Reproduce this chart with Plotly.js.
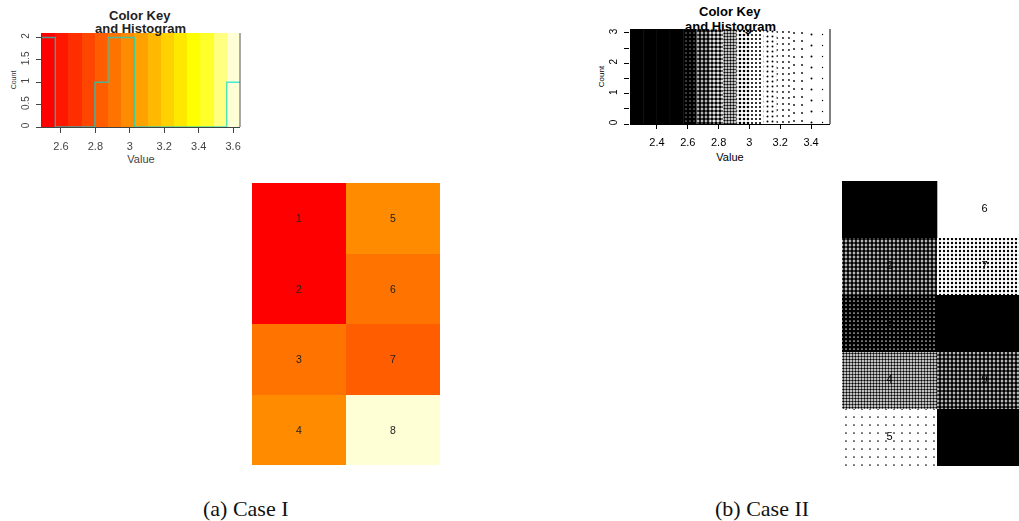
<!DOCTYPE html>
<html><head><meta charset="utf-8">
<script src="https://cdn.plot.ly/plotly-3.0.1.min.js"></script>
<style>
html,body{margin:0;padding:0;background:#fff;overflow:hidden}
#c{width:1019px;height:521px}
#c .subplot.xy,#c .subplot.x2y2{filter:blur(0.6px)}
#c .subplot.x3y3,#c .subplot.x4y4{filter:blur(0.25px)}
</style></head><body><div id="c"></div>
<script>
// Case I colour key: heat palette, bin centres, histogram
const heatColors=["#ff0000","#ff1700","#ff2e00","#ff4600","#ff5d00","#ff7400","#ff8b00","#ffa200","#ffb900","#ffd100","#ffe800","#ffff00","#ffff2a","#ffff80","#ffffd5"];
const keyEdges1=[2.49,2.567,2.643,2.72,2.797,2.873,2.95,3.027,3.103,3.18,3.257,3.333,3.41,3.487,3.563,3.64];
const keyCenters1=[2.528,2.605,2.682,2.758,2.835,2.912,2.988,3.065,3.142,3.218,3.295,3.372,3.448,3.525,3.602];
const histCounts1=[2,0,0,0,1,2,2,0,0,0,0,0,0,0,1,1];
// Case I grid
const gridValues1=[[2.52,3.0],[2.54,2.92],[2.91,2.83],[2.98,3.6]];
const gridLabels1=[["1","5"],["2","6"],["3","7"],["4","8"]];
const gridRows1=["r1","r2","r3","r4"];
const gridCols1=["c1","c2"];
// Case II colour key: fraction of black per bin
const keyCenters2=[2.268,2.355,2.441,2.528,2.614,2.701,2.787,2.874,2.96,3.047,3.133,3.22,3.306,3.393,3.479];
const keyDensity2=[1,1,1,1,0.85,0.72,0.62,0.5,0.35,0.22,0.12,0.07,0.04,0.025,0.012];
// Case II grid: column, row from the bottom, fraction of black
const cellCol=[0.5,0.5,0.5,0.5,0.5,1.5,1.5,1.5,1.5,1.5];
const cellRow=[4,3,2,1,0,4,3,2,1,0];
const cellDensity=[1,0.72,0.82,0.5,0.035,0,0.28,1,0.72,1];
const cellLabels=["1","2","3","4","5","6","7","8","9","10"];

const W=1019,H=521;
const dx=(a,b)=>[a/W,b/W];
const dy=(top,bot)=>[1-bot/H,1-top/H];
const stepScale=heatColors.flatMap((c,i)=>[[i/15,c],[(i+1)/15,c]]);
const sizeFor=d=>d>=0.6?4:d>=0.4?3:d>=0.2?4:d>=0.1?5:d>=0.05?6:d>=0.03?8:11;
const axisFont={family:"Liberation Sans",size:11,color:"#444"};
const axisFontY={family:"Liberation Sans",size:10,color:"#444"};
const font2={family:"Liberation Sans",size:11,color:"#000"};
const font2Y={family:"Liberation Sans",size:10,color:"#000"};
const titleFont={family:"Liberation Sans",size:13,color:"#222"};
const titleFont2={family:"Liberation Sans",size:13,color:"#000"};
const capFont={family:"Liberation Serif",size:22,color:"#111"};
const note=(text,px,py,font)=>({text,x:px/W,y:1-py/H,xref:"paper",yref:"paper",xanchor:"center",yanchor:"middle",showarrow:false,font});
const pick=(arr,keep)=>arr.filter((_,i)=>keep(i));
const isSolid=dens=>i=>dens[i]>=1;
const isDotted=dens=>i=>dens[i]>0&&dens[i]<1;
const dotted=(dens)=>{const d=pick(dens,isDotted(dens));return {color:"#fff",line:{width:0},pattern:{shape:".",fgcolor:"#000",bgcolor:"#fff",fillmode:"replicate",size:d.map(sizeFor),solidity:d}};};
const solid={color:"#000",line:{color:"#000",width:0.6}};
const keyHeight=3.13;

const traces=[
 {type:"heatmap",x:keyCenters1,y:[0,2.1],z:[keyCenters1,keyCenters1],xaxis:"x",yaxis:"y",zmin:2.49,zmax:3.64,colorscale:stepScale,showscale:false,hoverinfo:"skip"},
 {type:"scatter",mode:"lines",x:keyEdges1,y:histCounts1,xaxis:"x",yaxis:"y",opacity:0.7,line:{shape:"hv",color:"#00d8d0",width:1.4},hoverinfo:"skip"},
 {type:"heatmap",x:gridCols1,y:gridRows1,z:gridValues1,text:gridLabels1,texttemplate:"%{text}",textfont:{family:"Liberation Sans",size:10.5,color:"#222"},xaxis:"x2",yaxis:"y2",zmin:2.49,zmax:3.64,colorscale:stepScale,showscale:false,hoverinfo:"skip"},
 {type:"bar",x:pick(keyCenters2,isSolid(keyDensity2)),y:pick(keyDensity2,isSolid(keyDensity2)).map(()=>keyHeight),width:0.0866,xaxis:"x3",yaxis:"y3",hoverinfo:"skip",marker:solid},
 {type:"bar",x:pick(keyCenters2,isDotted(keyDensity2)),y:pick(keyDensity2,isDotted(keyDensity2)).map(()=>keyHeight),width:0.0866,xaxis:"x3",yaxis:"y3",hoverinfo:"skip",marker:dotted(keyDensity2)},
 {type:"bar",x:pick(cellCol,isSolid(cellDensity)),y:pick(cellRow,isSolid(cellDensity)).map(()=>1),base:pick(cellRow,isSolid(cellDensity)),width:1,xaxis:"x4",yaxis:"y4",hoverinfo:"skip",marker:solid},
 {type:"bar",x:pick(cellCol,isDotted(cellDensity)),y:pick(cellRow,isDotted(cellDensity)).map(()=>1),base:pick(cellRow,isDotted(cellDensity)),width:1,xaxis:"x4",yaxis:"y4",hoverinfo:"skip",marker:dotted(cellDensity)},
 {type:"scatter",mode:"text",x:cellCol,y:cellRow.map(r=>r+0.5),text:cellLabels,textfont:{family:"Liberation Sans",size:11,color:"#000"},xaxis:"x4",yaxis:"y4",hoverinfo:"skip"}
];

const layout={
 width:W,height:H,margin:{l:0,r:0,t:0,b:0},paper_bgcolor:"#fff",plot_bgcolor:"#fff",showlegend:false,barmode:"overlay",
 xaxis:{domain:dx(42,240),range:[2.49,3.64],anchor:"y",tickmode:"array",tickvals:[2.6,2.8,3,3.2,3.4,3.6],ticktext:["2.6","2.8","3","3.2","3.4","3.6"],ticks:"outside",ticklen:5,tickcolor:"#444",tickfont:axisFont,ticklabelstandoff:4,showline:true,linecolor:"#444",linewidth:1,showgrid:false,zeroline:false,title:{text:"Value",font:axisFont,standoff:4}},
 yaxis:{domain:dy(33,127),range:[0,2.1],anchor:"x",tickmode:"array",tickvals:[0,0.5,1,1.5,2],ticktext:["0","0.5","1","1.5","2"],tickangle:-90,ticks:"outside",ticklen:5,tickcolor:"#444",tickfont:axisFontY,ticklabelstandoff:3,showline:true,linecolor:"#444",linewidth:1,showgrid:false,zeroline:false,title:{text:"Count",font:{family:"Liberation Sans",size:7,color:"#333"},standoff:2}},
 xaxis2:{domain:dx(252,440),anchor:"y2",type:"category",range:[-0.5,1.5],visible:false},
 yaxis2:{domain:dy(183,465),anchor:"x2",type:"category",range:[3.5,-0.5],visible:false},
 xaxis3:{domain:dx(630,830),range:[2.225,3.523],anchor:"y3",tickmode:"array",tickvals:[2.4,2.6,2.8,3,3.2,3.4],ticktext:["2.4","2.6","2.8","3","3.2","3.4"],ticks:"outside",ticklen:4,tickcolor:"#000",tickfont:font2,ticklabelstandoff:4,showline:true,linecolor:"#000",linewidth:1,showgrid:false,zeroline:false,title:{text:"Value",font:font2,standoff:6}},
 yaxis3:{domain:dy(29,124),range:[0,keyHeight],anchor:"x3",tickmode:"array",tickvals:[0,0.5,1,1.5,2,2.5,3],ticktext:["0","","1","","2","","3"],tickangle:-90,ticks:"outside",ticklen:5,tickcolor:"#000",tickfont:font2Y,ticklabelstandoff:3,showline:false,showgrid:false,zeroline:false,title:{text:"Count",font:{family:"Liberation Sans",size:8,color:"#000"},standoff:2}},
 xaxis4:{domain:dx(842,1019),range:[0,177/95],anchor:"y4",visible:false},
 yaxis4:{domain:dy(181,466),range:[0,5],anchor:"x4",visible:false},
 shapes:[
  {type:"line",xref:"x domain",yref:"y domain",x0:1,x1:1,y0:0,y1:1,line:{color:"#555",width:1}},
  {type:"line",xref:"x3 domain",yref:"y3 domain",x0:1,x1:1,y0:0,y1:1,line:{color:"#000",width:1}}
 ],
 annotations:[
  note("<b>Color Key</b>",140,16,titleFont),
  note("<b>and Histogram</b>",140,29,titleFont),
  note("<b>Color Key</b>",730,12,titleFont2),
  note("<b>and Histogram</b>",730,26,titleFont2),
  note("(a) Case I",245.5,508,capFont),
  note("(b) Case II",761.5,508,capFont)
 ]
};
Plotly.newPlot("c",traces,layout,{staticPlot:true,displayModeBar:false});
</script></body></html>
